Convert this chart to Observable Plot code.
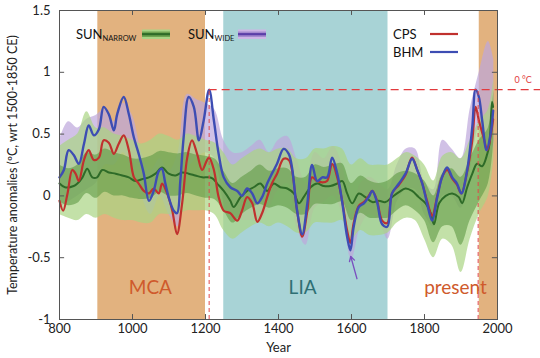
<!DOCTYPE html>
<html><head><meta charset="utf-8">
<script src="https://cdn.jsdelivr.net/npm/d3@7"></script>
<script src="https://cdn.jsdelivr.net/npm/@observablehq/plot@0.6"></script>
<style>body{margin:0;background:#fff} svg{display:block}</style>
</head><body><div id="chart"></div>
<script>
// Periods
const periodNames = ["MCA", "LIA", "present"];
const periodStart = [905, 1250, 1950];
const periodEnd = [1200, 1700, 2000];
const periodLabelX = [1049, 1466, 1885];
const periodLabelY = -0.745;

// Reconstructions (year, anomaly)
const bhm = [[800,0.15],[812,0.21],[825,0.37],[839,0.33],[853,0.26],[867,0.42],[880,0.57],[894,0.49],[908,0.54],[921,0.72],[935,0.66],[949,0.53],[958,0.66],[976,0.80],[990,0.66],[1004,0.47],[1017,0.34],[1031,0.18],[1045,-0.04],[1058,0.04],[1072,0.20],[1080,0.22],[1090,0.10],[1099,-0.01],[1113,-0.12],[1122,-0.14],[1131,0.12],[1140,0.47],[1154,0.80],[1168,0.72],[1182,0.45],[1195,0.61],[1210,0.86],[1223,0.61],[1236,0.34],[1250,0.15],[1268,0.07],[1287,0.04],[1300,0.0],[1314,0.06],[1328,0.02],[1342,-0.06],[1355,-0.01],[1369,0.10],[1382,0.18],[1396,0.26],[1414,0.38],[1428,0.34],[1437,0.23],[1451,-0.12],[1465,-0.31],[1479,-0.06],[1492,0.25],[1506,0.12],[1520,0.15],[1533,0.15],[1547,0.31],[1561,0.18],[1575,-0.06],[1588,-0.33],[1597,-0.44],[1606,-0.25],[1620,-0.09],[1634,-0.06],[1647,-0.01],[1657,0.04],[1670,-0.05],[1684,-0.23],[1698,-0.25],[1711,0.02],[1730,0.10],[1748,0.18],[1766,0.30],[1780,0.21],[1794,0.10],[1807,-0.06],[1821,-0.20],[1835,-0.01],[1848,0.15],[1862,0.23],[1876,0.15],[1889,0.10],[1901,0.02],[1917,0.21],[1931,0.56],[1940,0.86],[1949,0.80],[1958,0.61],[1970,0.37],[1981,0.50],[1988,0.69]];
const cps = [[800,-0.04],[810,-0.12],[822,0.02],[835,0.21],[844,0.18],[853,0.12],[867,0.29],[880,0.37],[894,0.29],[908,0.31],[921,0.45],[935,0.43],[949,0.34],[962,0.42],[976,0.49],[990,0.37],[1004,0.15],[1017,0.10],[1031,0.04],[1045,0.02],[1058,0.06],[1072,0.02],[1081,0.10],[1095,0.02],[1109,-0.12],[1122,-0.31],[1136,-0.06],[1150,0.31],[1163,0.45],[1177,0.34],[1191,0.21],[1204,0.29],[1210,0.31],[1223,0.21],[1236,-0.01],[1250,-0.12],[1268,-0.14],[1287,-0.20],[1300,-0.12],[1314,-0.01],[1328,-0.06],[1342,-0.21],[1355,-0.14],[1369,-0.01],[1382,0.10],[1396,0.18],[1414,0.30],[1428,0.29],[1437,0.21],[1451,-0.12],[1465,-0.33],[1479,-0.12],[1492,0.15],[1506,0.12],[1520,0.11],[1533,0.12],[1547,0.26],[1561,0.15],[1575,-0.05],[1588,-0.28],[1597,-0.38],[1606,-0.22],[1620,-0.08],[1634,-0.05],[1647,0.0],[1657,0.04],[1670,-0.04],[1684,-0.20],[1698,-0.22],[1711,0.02],[1730,0.09],[1748,0.17],[1766,0.31],[1780,0.21],[1794,0.10],[1807,-0.04],[1821,-0.16],[1835,0.0],[1848,0.15],[1862,0.21],[1876,0.14],[1889,0.09],[1901,0.02],[1917,0.20],[1931,0.45],[1940,0.72],[1949,0.61],[1962,0.47],[1972,0.37],[1981,0.48],[1988,0.62]];
const sunNarrow = [[800,0.10],[815,0.07],[839,0.08],[849,0.10],[863,0.15],[876,0.22],[890,0.15],[903,0.15],[917,0.21],[935,0.19],[954,0.18],[972,0.165],[990,0.15],[1008,0.12],[1026,0.135],[1045,0.15],[1063,0.18],[1081,0.23],[1099,0.18],[1118,0.165],[1136,0.19],[1154,0.18],[1172,0.165],[1191,0.15],[1209,0.15],[1220,0.14],[1232,0.10],[1250,0.04],[1268,-0.04],[1277,-0.09],[1296,-0.01],[1314,0.04],[1332,0.07],[1350,0.10],[1369,0.04],[1387,0.10],[1405,0.07],[1424,0.06],[1442,0.02],[1456,-0.06],[1469,-0.01],[1488,0.07],[1506,0.10],[1524,0.08],[1542,0.08],[1561,0.10],[1575,0.12],[1588,0.02],[1602,-0.06],[1620,0.02],[1638,-0.01],[1657,-0.05],[1675,-0.04],[1693,-0.05],[1711,-0.01],[1730,0.03],[1748,0.06],[1766,0.04],[1784,-0.01],[1803,-0.06],[1817,-0.14],[1826,-0.23],[1840,-0.06],[1858,0.0],[1876,0.02],[1894,-0.01],[1903,-0.06],[1917,0.07],[1931,0.18],[1944,0.26],[1958,0.24],[1972,0.34],[1978,0.42],[1985,0.76],[1988,0.72]];

// Uncertainty bands
const bandYears = [800,825,850,875,900,925,950,975,1000,1025,1050,1075,1100,1125,1150,1175,1200,1225,1250,1275,1300,1325,1350,1375,1400,1425,1450,1475,1500,1525,1550,1575,1600,1625,1650,1675,1700,1725,1750,1775,1800,1825,1850,1875,1900,1925,1950,1975,1990];
const narrowInnerLo = [-0.05,-0.08,-0.06,0.02,-0.02,0.03,0.0,0.0,-0.02,-0.03,-0.02,0.03,0.0,0.0,0.02,0.0,-0.02,-0.03,-0.12,-0.22,-0.15,-0.10,-0.07,-0.10,-0.08,-0.10,-0.15,-0.15,-0.07,-0.07,-0.07,-0.05,-0.20,-0.14,-0.18,-0.18,-0.18,-0.12,-0.08,-0.12,-0.20,-0.38,-0.25,-0.25,-0.40,-0.20,-0.05,0.10,0.45];
const narrowInnerHi = [0.25,0.22,0.25,0.35,0.33,0.38,0.35,0.33,0.30,0.30,0.32,0.36,0.35,0.34,0.35,0.33,0.32,0.30,0.20,0.10,0.15,0.20,0.25,0.20,0.22,0.22,0.15,0.15,0.25,0.23,0.25,0.26,0.10,0.16,0.12,0.10,0.12,0.18,0.20,0.18,0.12,0.0,0.18,0.22,0.15,0.30,0.45,0.55,0.85];
const narrowOuterLo = [-0.15,-0.18,-0.20,-0.15,-0.18,-0.15,-0.18,-0.20,-0.20,-0.22,-0.22,-0.15,-0.15,-0.15,-0.12,-0.12,-0.12,-0.15,-0.28,-0.35,-0.30,-0.25,-0.22,-0.25,-0.22,-0.25,-0.30,-0.30,-0.22,-0.22,-0.22,-0.20,-0.35,-0.28,-0.32,-0.32,-0.30,-0.22,-0.18,-0.20,-0.35,-0.50,-0.35,-0.40,-0.62,-0.35,-0.15,0.0,0.30];
const narrowOuterHi = [0.40,0.45,0.50,0.68,0.55,0.55,0.50,0.48,0.45,0.42,0.45,0.50,0.48,0.45,0.50,0.48,0.45,0.43,0.35,0.25,0.30,0.35,0.38,0.35,0.38,0.38,0.30,0.30,0.38,0.38,0.40,0.38,0.25,0.30,0.25,0.25,0.25,0.30,0.35,0.32,0.25,0.12,0.32,0.35,0.30,0.45,0.60,0.70,0.95];
const wideLo = [-0.10,-0.05,0.0,0.05,0.10,0.25,0.25,0.35,0.20,0.0,-0.15,0.0,-0.15,-0.25,0.20,0.30,0.35,0.30,-0.05,-0.20,-0.20,-0.20,-0.20,-0.10,0.05,0.10,-0.25,-0.40,-0.10,-0.05,0.0,-0.15,-0.52,-0.25,-0.15,-0.20,-0.35,-0.05,0.05,0.05,-0.15,-0.25,0.0,0.0,-0.10,0.20,0.55,0.30,0.40];
const wideHi = [0.45,0.60,0.55,0.62,0.65,0.70,0.60,0.75,0.65,0.35,0.20,0.30,0.20,0.35,0.82,0.78,0.75,0.70,0.45,0.35,0.35,0.40,0.45,0.35,0.45,0.48,0.30,0.10,0.35,0.30,0.40,0.25,-0.15,0.10,0.15,0.10,0.05,0.25,0.38,0.38,0.12,0.05,0.45,0.38,0.30,0.70,1.00,1.25,1.10];

// Reference markers
const refLevel = 0.86;
const refYears = [1210, 1947];
const refLineEnd = 2120;
const arrowFrom = [1615, -0.67];
const arrowTo = [1598, -0.49];

const xTicks = [800, 1000, 1200, 1400, 1600, 1800, 2000];
const yTicks = [-1, -0.5, 0, 0.5, 1, 1.5];
const yTickLabels = ["-1", "-0.5", "0", "0.5", "1", "1.5"];

const font = "Lato, 'Open Sans', 'DejaVu Sans', sans-serif";
const bandIdx = bandYears.map((_, i) => i);
const curve = "catmull-rom";

const plot = Plot.plot({
  width: 540, height: 358,
  marginLeft: 59, marginRight: 43, marginTop: 10, marginBottom: 39,
  style: {fontFamily: font, fontSize: "13px", background: "#fff", color: "#222"},
  x: {domain: [800, 2000]},
  y: {domain: [-1, 1.5]},
  marks: [
    Plot.rect(periodNames, {x1: (d, i) => periodStart[i], x2: (d, i) => periodEnd[i], fill: (d, i) => i === 1 ? "#a8d3d6" : "#e2b27f"}),
    Plot.areaY(bandIdx, {x: i => bandYears[i], y1: i => wideLo[i], y2: i => wideHi[i], fill: "#bea6dc", fillOpacity: 0.7, curve}),
    Plot.areaY(bandIdx, {x: i => bandYears[i], y1: i => narrowOuterLo[i], y2: i => narrowOuterHi[i], fill: "#a9d483", fillOpacity: 0.7, curve}),
    Plot.areaY(bandIdx, {x: i => bandYears[i], y1: i => narrowInnerLo[i], y2: i => narrowInnerHi[i], fill: "#5f9a45", fillOpacity: 0.6, curve}),
    Plot.line(sunNarrow, {x: d => d[0], y: d => d[1], stroke: "#2e6b28", strokeWidth: 2, curve}),
    Plot.line(cps, {x: d => d[0], y: d => d[1], stroke: "#c0312e", strokeWidth: 2.2, curve}),
    Plot.line(bhm, {x: d => d[0], y: d => d[1], stroke: "#3d4db3", strokeWidth: 2.4, curve}),
    Plot.ruleY([refLevel], {x1: refYears[0], x2: refLineEnd, stroke: "#e23a3d", strokeWidth: 1.4, strokeDasharray: "8,5"}),
    Plot.ruleX(refYears, {y1: -1, y2: refLevel, stroke: "#e0474a", strokeWidth: 1, strokeDasharray: "4,3"}),
    Plot.text(["0 °C"], {x: 2070, y: refLevel + 0.075, fill: "#e23a3d", fontSize: 9}),
    Plot.arrow([0], {x1: arrowFrom[0], y1: arrowFrom[1], x2: arrowTo[0], y2: arrowTo[1], stroke: "#7a4fbf", strokeWidth: 1.3, headLength: 6}),
    Plot.text(periodNames, {x: (d, i) => periodLabelX[i], y: periodLabelY, fill: (d, i) => i === 1 ? "#2e6f74" : "#cf5a2c", fontSize: 19}),
    Plot.frame({stroke: "#555"}),
    Plot.ruleX(xTicks, {y1: -1, y2: -0.96, stroke: "#555"}),
    Plot.ruleX(xTicks, {y1: 1.5, y2: 1.46, stroke: "#555"}),
    Plot.ruleY(yTicks, {x1: 800, x2: 814, stroke: "#555"}),
    Plot.ruleY(yTicks, {x1: 1986, x2: 2000, stroke: "#555"}),
    Plot.axisX({ticks: xTicks, tickSize: 0, tickPadding: 4, fontSize: 13, tickFormat: d => String(d), label: null}),
    Plot.axisY({ticks: yTicks, tickSize: 0, tickPadding: 9, fontSize: 13, tickFormat: (d) => yTickLabels[yTicks.indexOf(d)], label: null}),
    Plot.text(["Temperature anomalies (ºC, wrt 1500-1850 CE)"], {frameAnchor: "left", textAnchor: "middle", rotate: -90, dx: -47, fontSize: 12.5}),
    Plot.text(["Year"], {frameAnchor: "bottom", dy: 32, fontSize: 13})
  ]
});

// Legend (layout positions in pixels)
const svg = d3.select(plot);
const lg = svg.append("g").style("font-family", font).attr("text-anchor", "start");
function sunEntry(x, sub, swX, outer, inner, line) {
  lg.append("text").attr("x", x).attr("y", 38.5).attr("font-size", 13).attr("fill", "#111").text("SUN")
    .append("tspan").attr("font-size", 7.5).attr("dy", 2.5).text(sub);
  lg.append("rect").attr("x", swX).attr("y", 29.5).attr("width", 28).attr("height", 9.5).attr("fill", outer);
  lg.append("rect").attr("x", swX).attr("y", 31.5).attr("width", 28).attr("height", 5.5).attr("fill", inner);
  lg.append("line").attr("x1", swX).attr("x2", swX + 28).attr("y1", 34.2).attr("y2", 34.2).attr("stroke", line).attr("stroke-width", 2.2);
}
sunEntry(76, "NARROW", 142, "#a9d486", "#6ea452", "#2e6b28");
sunEntry(188, "WIDE", 238, "#cdb6e6", "#a58ad0", "#5a3ea8");
[["CPS", "#c0312e", 34], ["BHM", "#3d4db3", 52]].forEach(([t, c, y]) => {
  lg.append("text").attr("x", 393).attr("y", y + 4.5).attr("font-size", 13).attr("fill", "#111").text(t);
  lg.append("line").attr("x1", 430).attr("x2", 458).attr("y1", y).attr("y2", y).attr("stroke", c).attr("stroke-width", 2.2);
});

document.getElementById("chart").appendChild(plot);
</script></body></html>
